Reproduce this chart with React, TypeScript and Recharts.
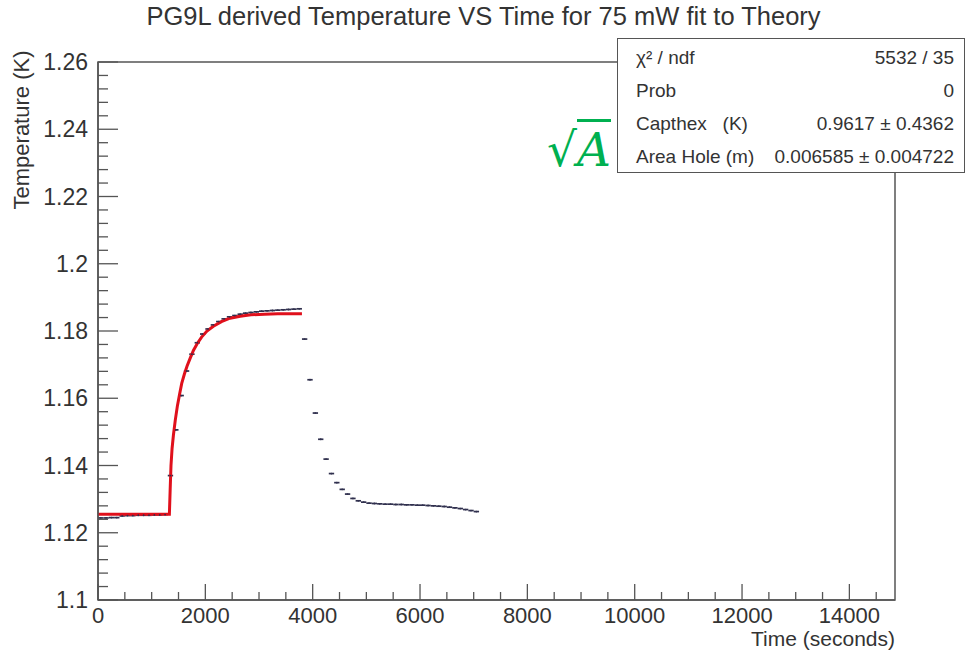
import { ComposedChart, Scatter, Line, XAxis, YAxis, ErrorBar, ReferenceArea } from 'recharts'

// measured points (time in s, temperature in K)
const DATA_TIME = [
  50, 150, 250, 350, 450, 550, 650, 750, 850, 950, 1050, 1150, 1250,
  1350, 1450, 1550, 1650, 1750, 1850, 1950, 2050, 2150, 2250, 2350, 2450,
  2550, 2650, 2750, 2850, 2950, 3050, 3150, 3250, 3350, 3450, 3550, 3650, 3750,
  3850, 3950, 4050, 4150, 4250, 4350, 4450, 4550, 4650, 4750, 4850, 4950,
  5050, 5150, 5250, 5350, 5450, 5550, 5650, 5750, 5850, 5950, 6050, 6150,
  6250, 6350, 6450, 6550, 6650, 6750, 6850, 6950, 7050,
]
const DATA_TEMP = [
  1.1244, 1.1244, 1.1245, 1.1245, 1.125, 1.1251, 1.1251, 1.1252, 1.1252, 1.1252, 1.1253, 1.1253, 1.1254,
  1.137, 1.1506, 1.1608, 1.1681, 1.1731, 1.1765, 1.1791, 1.1806, 1.1818, 1.1828, 1.1836, 1.1842,
  1.1846, 1.185, 1.1853, 1.1855, 1.1857, 1.1859, 1.186, 1.1861, 1.1862, 1.1863, 1.1864, 1.1865, 1.1866,
  1.1776, 1.1655, 1.1556, 1.1478, 1.1419, 1.1376, 1.1349, 1.1329, 1.1315, 1.1302, 1.1295, 1.1291,
  1.1288, 1.1287, 1.1286, 1.1285, 1.1285, 1.1284, 1.1284, 1.1283, 1.1283, 1.1282, 1.1282, 1.1281,
  1.128, 1.1279, 1.1278, 1.1276, 1.1274, 1.1272, 1.1269, 1.1266, 1.1263,
]
const BIN_HALF = 50

// fitted theory curve
const FIT_TIME = [0, 1330, 1345, 1360, 1380, 1405, 1440, 1480, 1520, 1560, 1610, 1660, 1720, 1780, 1850, 1930, 2030, 2150, 2300, 2460, 2650, 2850, 3100, 3350, 3600, 3800]
const FIT_TEMP = [1.1255, 1.1255, 1.133, 1.14, 1.145, 1.149, 1.1535, 1.1578, 1.1612, 1.1644, 1.1672, 1.1696, 1.172, 1.1743, 1.1763, 1.1782, 1.18, 1.1814, 1.1828, 1.1838, 1.1844, 1.1848, 1.185, 1.1851, 1.1851, 1.1851]

const X_TICKS = [0, 500, 1000, 1500, 2000, 2500, 3000, 3500, 4000, 4500, 5000, 5500, 6000, 6500, 7000, 7500, 8000, 8500, 9000, 9500, 10000, 10500, 11000, 11500, 12000, 12500, 13000, 13500, 14000, 14500]
const Y_TICKS = [
  1.1, 1.104, 1.108, 1.112, 1.116, 1.12, 1.124, 1.128, 1.132, 1.136, 1.14, 1.144, 1.148, 1.152, 1.156, 1.16,
  1.164, 1.168, 1.172, 1.176, 1.18, 1.184, 1.188, 1.192, 1.196, 1.2, 1.204, 1.208, 1.212, 1.216, 1.22,
  1.224, 1.228, 1.232, 1.236, 1.24, 1.244, 1.248, 1.252, 1.256, 1.26,
]

const STATS = [
  { label: 'χ² / ndf', value: '5532 / 35' },
  { label: 'Prob', value: '0' },
  { label: 'Capthex   (K)', value: '0.9617 ± 0.4362' },
  { label: 'Area Hole (m)', value: '0.006585 ± 0.004722' },
]

const X_MAX = 14850
const FONT = '"Liberation Sans", Arial, sans-serif'
const AXIS = '#555'
const TEXT = '#333'
const MARK = '#30304e'

const points = DATA_TIME.map((t, i) => ({ t, temp: DATA_TEMP[i], ex: BIN_HALF }))
const fit = FIT_TIME.map((t, i) => ({ t, temp: FIT_TEMP[i] }))

function XTick(props: any) {
  const { x, y, payload } = props
  const major = payload.value % 2000 === 0
  return (
    <g>
      <line x1={x} y1={y} x2={x} y2={y - (major ? 16 : 8)} stroke={AXIS} strokeWidth={1.3} />
      {major && (
        <text x={x} y={y + 23} textAnchor="middle" fontSize={22} fill={TEXT} fontFamily={FONT}>
          {payload.value}
        </text>
      )}
    </g>
  )
}

function YTick(props: any) {
  const { x, y, payload } = props
  const major = Math.round(payload.value * 1000) % 20 === 0
  return (
    <g>
      <line x1={x} y1={y} x2={x + (major ? 20 : 10)} y2={y} stroke={AXIS} strokeWidth={1.3} />
      {major && (
        <text x={x - 10} y={y + 8} textAnchor="end" fontSize={23} fill={TEXT} fontFamily={FONT}>
          {String(payload.value)}
        </text>
      )}
    </g>
  )
}

const Dot = (props: any) => <circle cx={props.cx} cy={props.cy} r={0.9} fill={MARK} />

export default function App() {
  return (
    <div style={{ position: 'absolute', left: 0, top: 0, width: 967, height: 651, background: '#fff', fontFamily: FONT, color: TEXT }}>
      <ComposedChart width={967} height={651} margin={{ top: 62, right: 72, left: 0, bottom: 0 }}>
        <XAxis
          type="number"
          dataKey="t"
          domain={[0, X_MAX]}
          allowDataOverflow
          ticks={X_TICKS}
          interval={0}
          tickSize={0}
          tickMargin={0}
          tickLine={false}
          axisLine={{ stroke: AXIS, strokeWidth: 1.5 }}
          tick={<XTick />}
          height={51}
        />
        <YAxis
          type="number"
          dataKey="temp"
          domain={[1.1, 1.26]}
          allowDataOverflow
          ticks={Y_TICKS}
          interval={0}
          tickSize={0}
          tickMargin={0}
          tickLine={false}
          axisLine={{ stroke: AXIS, strokeWidth: 1.5 }}
          tick={<YTick />}
          width={98}
        />
        <ReferenceArea x1={0} x2={X_MAX} y1={1.1} y2={1.26} fill="none" stroke={AXIS} strokeWidth={1.5} />
        <Scatter data={points} shape={<Dot />} isAnimationActive={false}>
          <ErrorBar dataKey="ex" direction="x" width={0} stroke={MARK} strokeWidth={1.7} />
        </Scatter>
        <Line data={fit} dataKey="temp" type="linear" stroke="#e0101c" strokeWidth={3} dot={false} isAnimationActive={false} />
      </ComposedChart>

      <div style={{ position: 'absolute', left: 0, width: 967, top: 2, textAlign: 'center', fontSize: 25.5, whiteSpace: 'nowrap' }}>
        PG9L derived Temperature VS Time for 75 mW fit to Theory
      </div>

      <div
        style={{
          position: 'absolute', left: 22, top: 130, fontSize: 22, whiteSpace: 'nowrap',
          transform: 'translate(-50%, -50%) rotate(-90deg)',
        }}
      >
        Temperature (K)
      </div>

      <div style={{ position: 'absolute', right: 967 - 895, top: 629, fontSize: 21, lineHeight: '20px', whiteSpace: 'nowrap' }}>
        Time (seconds)
      </div>

      <div
        style={{
          position: 'absolute', left: 617, top: 38, width: 348, height: 135, boxSizing: 'border-box',
          border: `1.5px solid ${AXIS}`, background: '#fff', padding: '2px 10px 0 18px',
        }}
      >
        {STATS.map((row) => (
          <div key={row.label} style={{ display: 'flex', justifyContent: 'space-between', height: 33, lineHeight: '33px', fontSize: 19, whiteSpace: 'pre' }}>
            <span>{row.label}</span>
            <span>{row.value}</span>
          </div>
        ))}
      </div>

      <div style={{ position: 'absolute', left: 547, top: 122, color: '#00b050', fontFamily: '"DejaVu Serif", serif', fontSize: 47, lineHeight: '56px', whiteSpace: 'nowrap' }}>
        √<span style={{ fontStyle: 'italic', borderTop: '3px solid #00b050' }}>A</span>
      </div>
    </div>
  )
}
